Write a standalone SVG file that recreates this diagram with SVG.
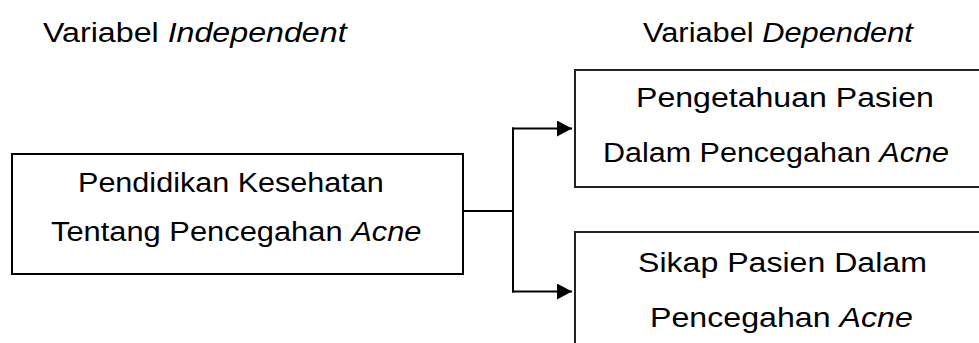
<svg xmlns="http://www.w3.org/2000/svg" width="979" height="343" viewBox="0 0 979 343">
<style>
text{font-family:"Liberation Sans",Arial,sans-serif;font-size:28px;fill:#000}
.i{font-style:italic}
.box{fill:#fff;stroke:#000;stroke-width:2}
.rbox{fill:#fff;stroke:#222;stroke-width:2}
.conn{fill:none;stroke:#000;stroke-width:2}
</style>
<defs>
<marker id="arr" markerUnits="userSpaceOnUse" markerWidth="16" markerHeight="18" refX="15" refY="8" orient="auto">
<path d="M0,0 L15,8 L0,16 Z" fill="#000"/>
</marker>
</defs>
<g id="headings">
<text transform="translate(43,42) scale(1.15,1)">Variabel <tspan class="i">Independent</tspan></text>
<text transform="translate(643,42) scale(1.10,1)">Variabel <tspan class="i">Dependent</tspan></text>
</g>
<g id="connectors">
<line class="conn" x1="463" y1="211" x2="513" y2="211" stroke-width="1.5"/>
<line class="conn" x1="513" y1="127.5" x2="513" y2="292.5"/>
<line class="conn" x1="512" y1="128.5" x2="572" y2="128.5" stroke-width="2.5" marker-end="url(#arr)"/>
<line class="conn" x1="512" y1="291.5" x2="572" y2="291.5" stroke-width="2.5" marker-end="url(#arr)"/>
</g>
<g id="node-independent">
<rect class="box" x="12" y="154" width="451" height="120"/>
<text transform="translate(78,191.5) scale(1.092,1)">Pendidikan Kesehatan</text>
<text transform="translate(51,240.5) scale(1.102,1)">Tentang Pencegahan <tspan class="i">Acne</tspan></text>
</g>
<g id="node-pengetahuan">
<rect class="rbox" x="575" y="70" width="420" height="117"/>
<text transform="translate(636,107) scale(1.146,1)">Pengetahuan Pasien</text>
<text transform="translate(603,161.5) scale(1.09,1)">Dalam Pencegahan <tspan class="i">Acne</tspan></text>
</g>
<g id="node-sikap">
<rect class="rbox" x="575" y="232" width="420" height="150"/>
<text transform="translate(638,272) scale(1.146,1)">Sikap Pasien Dalam</text>
<text transform="translate(650,327) scale(1.149,1)">Pencegahan <tspan class="i">Acne</tspan></text>
</g>
</svg>
